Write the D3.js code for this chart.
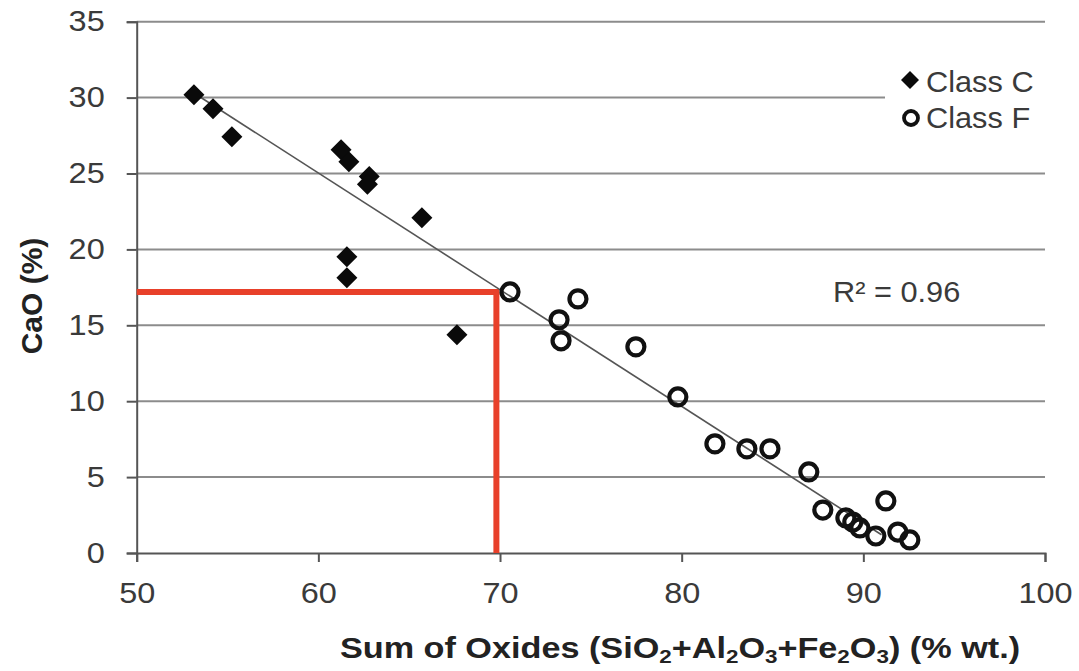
<!DOCTYPE html>
<html>
<head>
<meta charset="utf-8">
<script src="https://cdn.jsdelivr.net/npm/d3@7"></script>
<style>
  html, body { margin: 0; padding: 0; background: #fff; }
  svg { display: block; font-family: "Liberation Sans", Arial, sans-serif; }
</style>
</head>
<body>
<svg id="chart" width="1079" height="671"></svg>
<script>
// ---- data ----
const classCX = [53.15, 54.20, 55.24, 61.25, 61.68, 62.80, 62.70, 65.70, 61.57, 61.57, 67.63];
const classCY = [30.19, 29.27, 27.42, 26.57, 25.78, 24.80, 24.30, 22.08, 19.51, 18.13, 14.37];
const classFX = [70.55, 74.29, 73.25, 73.36, 77.48, 79.79, 81.83, 83.59, 84.86, 87.00, 87.77, 89.04, 89.42, 89.81, 90.69, 91.24, 91.90, 92.56];
const classFY = [17.20, 16.74, 15.36, 13.98, 13.58, 10.28, 7.19, 6.86, 6.86, 5.34, 2.83, 2.31, 2.04, 1.65, 1.12, 3.43, 1.38, 0.86];
const trendX = [53.15, 91.0];
const trendY = [30.3, 1.2];
const guideX = 69.8;
const guideY = 17.2;
const xTicks = [50, 60, 70, 80, 90, 100];
const yTicks = [0, 5, 10, 15, 20, 25, 30, 35];
const legendLabels = ["Class C", "Class F"];
const r2Label = "R\u00B2 = 0.96";

// ---- layout ----
const svg = d3.select("#chart");
const pLeft = 136.7, pRight = 1045, pTop = 21.7, pBottom = 553;
const x = d3.scaleLinear().domain([50, 100]).range([pLeft, pRight]);
const y = d3.scaleLinear().domain([0, 35]).range([pBottom, pTop]);

const gridColor = "#8c8c8c";
const axisColor = "#555";
const textColor = "#3a3a3a";
const tickStretch = 1.12;
const textStretch = 1.06;

// gridlines
svg.append("g")
  .selectAll("line")
  .data(yTicks.filter(d => d > 0))
  .join("line")
  .attr("x1", pLeft).attr("x2", pRight)
  .attr("y1", d => y(d)).attr("y2", d => y(d))
  .attr("stroke", gridColor).attr("stroke-width", 2);

// y axis
const yAxis = svg.append("g")
  .attr("transform", `translate(${pLeft},0)`)
  .call(d3.axisLeft(y).tickValues(yTicks).tickSize(10).tickPadding(22).tickFormat(d3.format("d")));
yAxis.select(".domain").attr("stroke", axisColor).attr("stroke-width", 2);
yAxis.selectAll(".tick line").attr("stroke", axisColor).attr("stroke-width", 2);
yAxis.selectAll(".tick text")
  .attr("x", 0)
  .attr("transform", `translate(-32,0) scale(${tickStretch},1)`)
  .attr("fill", textColor)
  .style("font-size", "29px")
  .style("font-family", "'Liberation Sans', Arial, sans-serif");

// x axis
const xAxis = svg.append("g")
  .attr("transform", `translate(0,${pBottom})`)
  .call(d3.axisBottom(x).tickValues(xTicks).tickSize(9).tickPadding(20).tickFormat(d3.format("d")));
xAxis.select(".domain").attr("stroke", axisColor).attr("stroke-width", 2);
xAxis.selectAll(".tick line").attr("stroke", axisColor).attr("stroke-width", 2);
xAxis.selectAll(".tick text")
  .attr("transform", `scale(${tickStretch},1)`)
  .attr("fill", textColor)
  .style("font-size", "29px")
  .style("font-family", "'Liberation Sans', Arial, sans-serif");

// legend background (hides gridline behind it)
svg.append("rect")
  .attr("x", 885).attr("y", 58).attr("width", 170).attr("height", 82)
  .attr("fill", "#fff");

// red guide lines
const red = "#e8402a";
svg.append("line")
  .attr("x1", x(50)).attr("x2", x(guideX) + 3)
  .attr("y1", y(guideY)).attr("y2", y(guideY))
  .attr("stroke", red).attr("stroke-width", 6);
svg.append("line")
  .attr("x1", x(guideX)).attr("x2", x(guideX))
  .attr("y1", y(guideY)).attr("y2", y(0))
  .attr("stroke", red).attr("stroke-width", 6);

// trendline
svg.append("line")
  .attr("x1", x(trendX[0])).attr("y1", y(trendY[0]))
  .attr("x2", x(trendX[1])).attr("y2", y(trendY[1]))
  .attr("stroke", "#555").attr("stroke-width", 1.6);

// class F circles
const fData = classFX.map((v, i) => [v, classFY[i]]);
svg.append("g")
  .selectAll("circle")
  .data(fData)
  .join("circle")
  .attr("cx", d => x(d[0])).attr("cy", d => y(d[1]))
  .attr("r", 8.5)
  .attr("fill", "none")
  .attr("stroke", "#111").attr("stroke-width", 4.2);

// class C diamonds
const diamond = h => `M0,${-h}L${h},0L0,${h}L${-h},0Z`;
const cData = classCX.map((v, i) => [v, classCY[i]]);
svg.append("g")
  .selectAll("path")
  .data(cData)
  .join("path")
  .attr("transform", d => `translate(${x(d[0])},${y(d[1])})`)
  .attr("d", diamond(10.5))
  .attr("fill", "#0a0a0a");

// legend
const lg = svg.append("g");
lg.append("path").attr("transform", "translate(910,80)").attr("d", diamond(9)).attr("fill", "#0a0a0a");
lg.append("circle").attr("cx", 911).attr("cy", 118).attr("r", 7)
  .attr("fill", "none").attr("stroke", "#111").attr("stroke-width", 3.8);
lg.selectAll("text")
  .data(legendLabels)
  .join("text")
  .attr("transform", (d, i) => `translate(926,${92 + i * 36}) scale(${textStretch},1)`)
  .attr("fill", textColor)
  .style("font-size", "29px")
  .text(d => d);

// R² label
svg.append("text")
  .attr("transform", `translate(833,302) scale(${textStretch},1)`)
  .attr("fill", textColor)
  .style("font-size", "29px")
  .text(r2Label);

// y axis title
svg.append("text")
  .attr("transform", "translate(42,296) rotate(-90)")
  .attr("text-anchor", "middle")
  .attr("fill", "#222")
  .style("font-size", "30px")
  .style("font-weight", "bold")
  .text("CaO (%)");

// x axis title with subscripts
const xt = svg.append("text")
  .attr("transform", "translate(680,658) scale(1.18,1)")
  .attr("text-anchor", "middle")
  .attr("fill", "#222")
  .style("font-size", "29px")
  .style("font-weight", "bold");
const parts = [
  ["Sum of Oxides (SiO", false], ["2", true], ["+Al", false], ["2", true],
  ["O", false], ["3", true], ["+Fe", false], ["2", true], ["O", false], ["3", true], [") (% wt.)", false]
];
parts.forEach(([t, sub], i) => {
  const prevSub = i > 0 && parts[i - 1][1];
  const ts = xt.append("tspan").text(t)
    .attr("dy", sub ? (prevSub ? 0 : 5) : (prevSub ? -5 : 0));
  if (sub) ts.style("font-size", "19px");
});
</script>
</body>
</html>
